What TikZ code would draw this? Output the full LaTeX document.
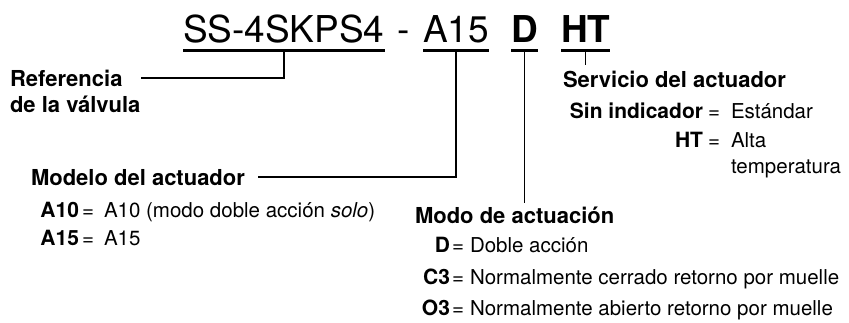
\documentclass[tikz,border=0pt]{standalone}
\usepackage{fontspec}
\setmainfont{TeX Gyre Heros}
\usetikzlibrary{calc,positioning}
\begin{document}
\begin{tikzpicture}[x=1pt,y=-1pt,
  every node/.style={inner sep=0pt,outer sep=0pt},
  code/.style={font=\fontsize{37}{40}\selectfont,anchor=base west},
  head/.style={font=\fontsize{22}{26}\selectfont\bfseries,anchor=base west},
  key/.style={font=\fontsize{21}{24}\selectfont\bfseries,anchor=base east},
  val/.style={font=\fontsize{20.5}{24}\selectfont,anchor=base west},
  uline/.style={line width=2.2pt},
  lead/.style={line width=1.5pt}]
\useasboundingbox (0,0) rectangle (849,322);
% codigo de la valvula
\node[code] (ref) at (183,42) {SS-4SKPS4};
\node[code] (sep) at (397,42) {-};
\node[code] (act) at (423,42) {A15};
\node[code] (mode) at (511,42) {\bfseries D};
\node[code] (serv) at (561,42) {\bfseries HT};
\foreach \p in {ref,act,mode,serv}{
  \draw[uline] ($(\p.base west)+(0,8.5)$) -- ($(\p.base east)+(0,8.5)$);
  \coordinate (\p-u) at ($(\p.base)+(0,8.5)$);
}
% referencia
\node[head] (ref-h) at (10,86) {Referencia};
\node[head] (ref-h2) at (10,112) {de la válvula};
\draw[lead] (ref-u) |- ([xshift=19pt]ref-h.east);
% modelo
\node[head] (act-h) at (31,185) {Modelo del actuador};
\draw[lead] (act-u) |- ([xshift=13pt]act-h.east);
\foreach \k/\v/\y [count=\i] in {A10/{A10 (modo doble acción \textit{solo})}/217,A15/A15/245}{
  \node[key] (act-k\i) at (79,\y) {\k};
  \node[val] (act-e\i) at (82,\y) {=};
  \node[val] (act-v\i) at (104,\y) {\v};
}
% servicio
\node[head] (serv-h) at (563,87) {Servicio del actuador};
\draw[lead] (serv-u) -- ($(serv-u |- serv-h.north)+(0,-6)$);
\foreach \k/\v/\y [count=\i] in {Sin indicador/Estándar/118,HT/Alta/147}{
  \node[key] (serv-k\i) at (703,\y) {\k};
  \node[val] (serv-e\i) at (708,\y) {=};
  \node[val] (serv-v\i) at (731,\y) {\v};
}
\node[val] (serv-v3) at (731,173) {temperatura};
% modo
\node[head] (mode-h) at (415,223) {Modo de actuación};
\draw[lead] (mode-u) -- ($(mode-u |- mode-h.north)+(0,-3)$);
\foreach \k/\v/\y [count=\i] in {D/Doble acción/252,C3/Normalmente cerrado retorno por muelle/284,O3/Normalmente abierto retorno por muelle/315}{
  \node[key] (mode-k\i) at (450,\y) {\k};
  \node[val] (mode-e\i) at (452,\y) {=};
  \node[val] (mode-v\i) at (470,\y) {\v};
}
\end{tikzpicture}
\end{document}
